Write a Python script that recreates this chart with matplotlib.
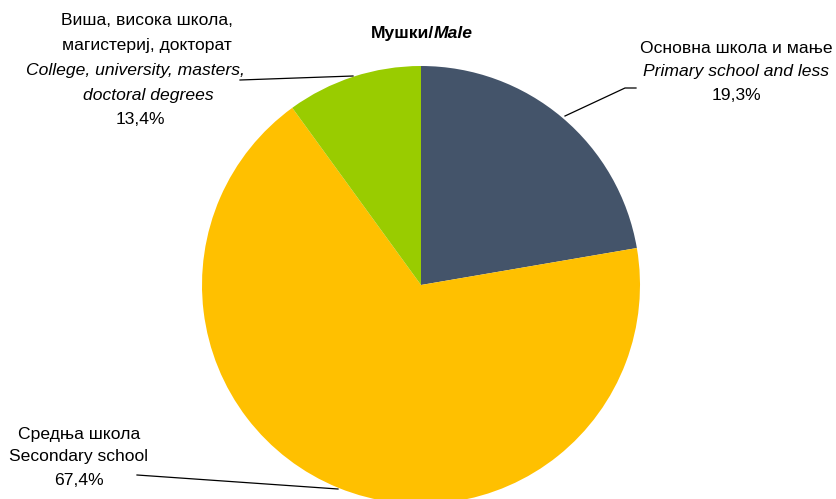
import matplotlib
matplotlib.use("Agg")
import matplotlib.pyplot as plt

# slice shares as drawn in the chart (clockwise from 12 o'clock)
sizes = [22.3, 67.7, 10.0]
colors = ['#44546A', '#FFC000', '#99CC00']

# label text
labels_sr = ['Основна школа и мање', 'Средња школа', 'Виша, висока школа,\nмагистериј, докторат']
labels_en = ['Primary school and less', 'Secondary school', 'College, university, masters,\ndoctoral degrees']
pct_labels = ['19,3%', '67,4%', '13,4%']

plt.rcParams['font.family'] = ['Liberation Sans Narrow', 'Liberation Sans', 'DejaVu Sans']

W, H = 837, 499
fig = plt.figure(figsize=(W / 100, H / 100), dpi=100)
ax = fig.add_axes([0, 0, 1, 1])

cx, cy, r = 421, H - 285, 219
ax.pie(sizes, colors=colors, startangle=90, counterclock=False,
       center=(cx, cy), radius=r, frame=True,
       wedgeprops=dict(linewidth=0))
ax.set_xlim(0, W)
ax.set_ylim(0, H)
ax.set_aspect('equal')
ax.axis('off')

fs = 12.6

def y(v):
    return H - v

# title
ax.text(434, y(33), 'Мушки/', ha='right', va='center', fontsize=fs, fontweight='bold')
ax.text(434, y(33), 'Male', ha='left', va='center', fontsize=fs, fontweight='bold', style='italic')

# primary school label
ax.text(736, y(48), labels_sr[0], ha='center', va='center', fontsize=fs)
ax.text(736, y(71), labels_en[0], ha='center', va='center', fontsize=fs, style='italic')
ax.text(736, y(95), pct_labels[0], ha='center', va='center', fontsize=fs)
ax.plot([565, 625, 636], [y(116), y(88), y(88)], color='black', lw=0.9)

# college label
sr_lines = labels_sr[2].split('\n')
en_lines = labels_en[2].split('\n')
ax.text(147, y(20), sr_lines[0], ha='center', va='center', fontsize=fs)
ax.text(147, y(45), sr_lines[1], ha='center', va='center', fontsize=fs)
ax.text(135, y(70), en_lines[0], ha='center', va='center', fontsize=fs, style='italic')
ax.text(148, y(95), en_lines[1], ha='center', va='center', fontsize=fs, style='italic')
ax.text(140, y(119), pct_labels[2], ha='center', va='center', fontsize=fs)
ax.plot([240, 353], [y(80), y(76)], color='black', lw=0.9)

# secondary school label
ax.text(79, y(434), labels_sr[1], ha='center', va='center', fontsize=fs)
ax.text(79, y(457), labels_en[1], ha='center', va='center', fontsize=fs)
ax.text(79, y(481), pct_labels[1], ha='center', va='center', fontsize=fs)
ax.plot([137, 338], [y(475), y(489)], color='black', lw=0.9)

fig.savefig('out.png', dpi=100)
